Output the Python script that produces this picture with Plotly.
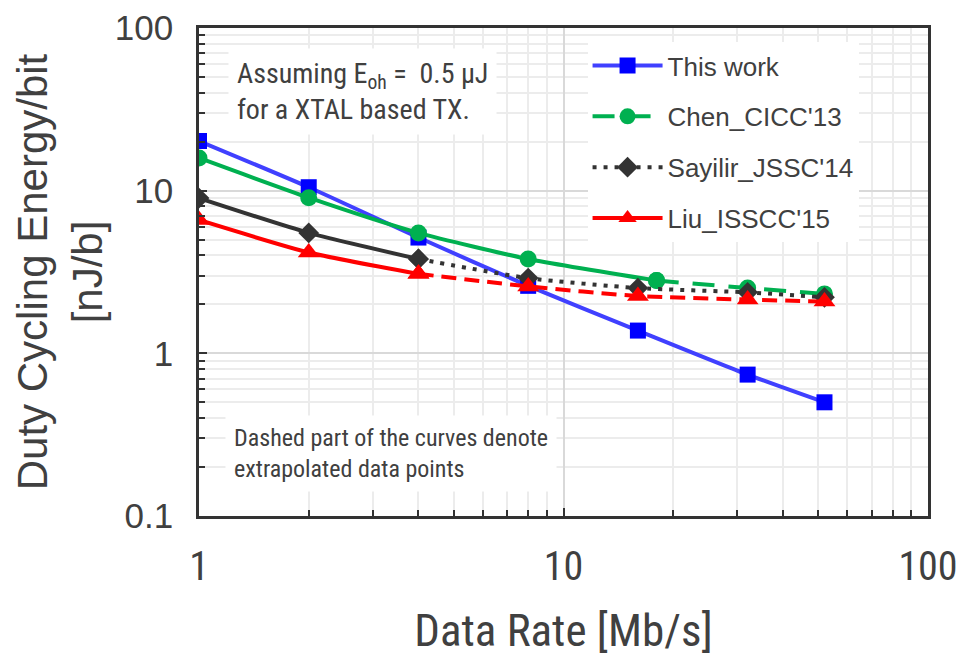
import plotly.graph_objects as go

# ---- data ----
x_this = [1, 2, 4, 8, 16, 32, 52]
y_this = [20.2, 10.5, 5.15, 2.6, 1.38, 0.74, 0.5]

x_chen = [1, 2, 4, 8, 18, 32, 52]
y_chen = [15.9, 9.06, 5.5, 3.8, 2.8, 2.52, 2.32]
chen_split = 4  # index of last measured point

x_say = [1, 2, 4, 8, 16, 32, 52]
y_say = [9.0, 5.5, 3.8, 2.9, 2.52, 2.37, 2.21]
say_split = 2

x_liu = [1, 2, 4, 8, 16, 32, 52]
y_liu = [6.6, 4.17, 3.08, 2.58, 2.25, 2.14, 2.08]
liu_split = 2

NARROW = "Liberation Sans Narrow, Arial Narrow, Roboto Condensed, sans-serif"
REG = "Liberation Sans, Arial, sans-serif"
TXT = "#404040"

fig = go.Figure()

def add_series(name, xs, ys, split, color, lcolor, symbol, msize, dash_ext, legend_on_ext, rank):
    # measured (solid) part
    fig.add_trace(go.Scatter(
        x=xs[:split + 1], y=ys[:split + 1], mode="lines+markers", name=name,
        line=dict(color=lcolor, width=4, shape="spline", smoothing=0.6),
        marker=dict(symbol=symbol, size=msize, color=color),
        legendgroup=name, showlegend=not legend_on_ext, legendrank=rank))
    if split < len(xs) - 1:
        fig.add_trace(go.Scatter(
            x=xs[split:], y=ys[split:], mode="lines+markers", name=name,
            line=dict(color=lcolor, width=4, dash=dash_ext, shape="spline", smoothing=0.6),
            marker=dict(symbol=symbol, size=msize, color=color),
            legendgroup=name, showlegend=legend_on_ext, legendrank=rank))

add_series("This work", x_this, y_this, len(x_this) - 1, "#0000FF", "#4040FF", "square", 16, None, False, 1)
add_series("Chen_CICC'13", x_chen, y_chen, chen_split, "#00B050", "#00B050", "circle", 17, "22px,14px", True, 2)
add_series("Sayilir_JSSC'14", x_say, y_say, say_split, "#333333", "#333333", "diamond", 16, "4px,7px", True, 3)
add_series("Liu_ISSCC'15", x_liu, y_liu, liu_split, "#FF0000", "#FF0000", "triangle-up", 19, "15px,8px", False, 4)

axis_common = dict(
    type="log", showline=True, linecolor="#333333", linewidth=2.5, mirror=True,
    ticks="inside", ticklen=8, tickwidth=2, tickcolor="#333333",
    showgrid=True, gridcolor="#D9D9D9", gridwidth=1.5, zeroline=False,
    automargin=False,
    minor=dict(dtick="D1", showgrid=True, gridcolor="#ECECEC", gridwidth=1.5,
               ticks="inside", ticklen=6, tickwidth=1.5, tickcolor="#333333"),
)

fig.update_xaxes(
    **axis_common, range=[0, 2], dtick=1,
    tickvals=[1, 10, 100], ticktext=["1", "10", "100"],
    tickfont=dict(family=NARROW, size=40, color=TXT), ticklabelstandoff=13,
    title=dict(text="Data Rate [Mb/s]", font=dict(family=NARROW, size=45, color=TXT), standoff=31),
)
fig.update_yaxes(
    **axis_common, range=[-1, 2], dtick=1,
    tickvals=[0.1, 1, 10, 100], ticktext=["0.1", "1", "10", "100"],
    tickfont=dict(family=REG, size=35, color=TXT), ticklabelstandoff=16,
    title=dict(text="Duty Cycling Energy/bit<br>[nJ/b]", font=dict(family=REG, size=42, color=TXT), standoff=0),
)

fig.add_annotation(
    xref="paper", yref="paper", x=0.04, y=0.958, xanchor="left", yanchor="top",
    text="Assuming E<sub>oh</sub> =  0.5 µJ<br>for a XTAL based TX.",
    showarrow=False, align="left", bgcolor="white", borderpad=8,
    font=dict(family=NARROW, size=28, color=TXT))
fig.add_annotation(
    xref="paper", yref="paper", x=0.035, y=0.207, xanchor="left", yanchor="top",
    text="Dashed part of the curves denote<br>extrapolated data points",
    showarrow=False, align="left", bgcolor="white", borderpad=8,
    font=dict(family=NARROW, size=24, color=TXT))

fig.update_layout(
    width=960, height=657,
    margin=dict(l=199, r=32, t=28, b=141),
    paper_bgcolor="white", plot_bgcolor="white",
    legend=dict(x=0.533, y=0.971, xanchor="left", yanchor="top",
                bgcolor="white", font=dict(family=REG, size=26, color=TXT),
                itemwidth=70, traceorder="grouped", tracegroupgap=14),
    showlegend=True,
)

fig.write_html("out.html")
